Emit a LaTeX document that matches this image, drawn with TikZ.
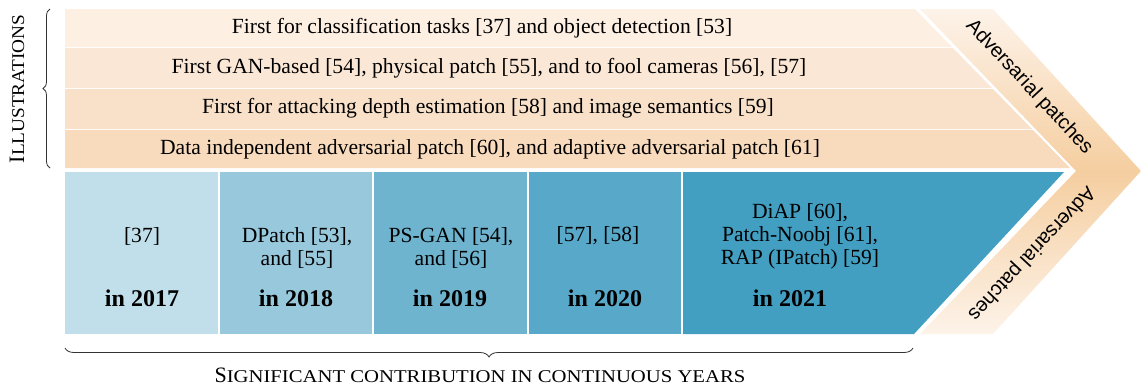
\documentclass[tikz,border=0pt]{standalone}
\usepackage{fontspec}
\setmainfont{Liberation Serif}
\newfontfamily\bandfont{Liberation Sans}
\newfontfamily\scwide[FakeStretch=1.15]{Liberation Serif}
\newfontfamily\scnarrow[FakeStretch=1.07]{Liberation Serif}
\usetikzlibrary{decorations.pathreplacing}

\definecolor{stripeA}{RGB}{253,240,227}
\definecolor{stripeB}{RGB}{251,231,213}
\definecolor{stripeC}{RGB}{249,225,201}
\definecolor{stripeD}{RGB}{248,218,189}
\definecolor{yearA}{RGB}{193,223,234}
\definecolor{yearB}{RGB}{151,200,220}
\definecolor{yearC}{RGB}{110,180,207}
\definecolor{yearD}{RGB}{88,168,201}
\definecolor{yearE}{RGB}{66,159,193}
\definecolor{bandlight}{RGB}{253,243,233}
\definecolor{banddark}{RGB}{245,206,160}

% fake small caps: #1 font, #2 capital, #3 rest
\newcommand{\fakesc}[3]{{\fontsize{11}{13}\selectfont #2}{#1\fontsize{9}{11}\selectfont #3}}

\tikzset{
  yeartext/.style={align=center},
  yearbold/.style={font=\fontsize{12}{14}\selectfont\bfseries},
  bandtext/.style={font=\bandfont},
  bracket/.style={draw=black!80, decorate, decoration={brace, amplitude=#1}},
}

\begin{document}
\begin{tikzpicture}[x=0.5pt, y=-0.5pt, font=\fontsize{10.8}{11.5}\selectfont]
    \useasboundingbox (0,0) rectangle (1141,388);
    % illustrations (stripes)
    \fill[stripeA] (65,9) -- (915,9) -- (952,47) -- (65,47) -- cycle;
    \fill[stripeB] (65,48) -- (953,48) -- (992,88) -- (65,88) -- cycle;
    \fill[stripeC] (65,89) -- (993,89) -- (1032,129) -- (65,129) -- cycle;
    \fill[stripeD] (65,130) -- (1033,130) -- (1070,168) -- (65,168) -- cycle;
    \node (s1) at (482,28) {First for classification tasks [37] and object detection [53]};
    \node (s2) at (489,68) {First GAN-based [54], physical patch [55], and to fool cameras [56], [57]};
    \node (s3) at (488,108) {First for attacking depth estimation [58] and image semantics [59]};
    \node (s4) at (490,149) {Data independent adversarial patch [60], and adaptive adversarial patch [61]};
    % years
    \fill[yearA] (65,172) rectangle (218,334);
    \fill[yearB] (220,172) rectangle (372,334);
    \fill[yearC] (374,172) rectangle (527,334);
    \fill[yearD] (529,172) rectangle (681,334);
    \fill[yearE] (683,172) -- (1064,172) -- (914,334) -- (683,334) -- cycle;
    \node (c1) at (142,236) {[37]};
    \node[yeartext] (c2) at (297,247.5) {DPatch [53],\\and [55]};
    \node[yeartext] (c3) at (451,247.5) {PS-GAN [54],\\and [56]};
    \node (c4) at (598,236) {[57], [58]};
    \node[yeartext] (c5) at (800,236) {DiAP [60],\\Patch-Noobj [61],\\RAP (IPatch) [59]};
    \node[yearbold] (y1) at (142,298) {in 2017};
    \node[yearbold] (y2) at (296,298) {in 2018};
    \node[yearbold] (y3) at (450,298) {in 2019};
    \node[yearbold] (y4) at (605,298) {in 2020};
    \node[yearbold] (y5) at (790,298) {in 2021};
    % chevron band
    \shade[top color=bandlight, bottom color=banddark] (920,9) -- (993,9) -- (1141,171) -- (1076,171) -- cycle;
    \shade[top color=banddark, bottom color=bandlight] (1076,171) -- (1141,171) -- (993,334) -- (920,334) -- cycle;
    \node[bandtext, rotate=-47] (b1) at (1029,87) {Adversarial patches};
    \node[bandtext, rotate=227] (b2) at (1031,253) {Adversarial patches};
    % braces
    \coordinate (lb1) at (50,168);
    \coordinate (lb2) at (50,9);
    \draw[bracket=3.5pt] (lb1) -- (lb2);
    \node[rotate=90] (illus) at (17,89) {\fakesc{\scnarrow}{I}{LLUSTRATIONS}};
    \coordinate (bb1) at (913,348);
    \coordinate (bb2) at (65,348);
    \draw[bracket=4.5pt] (bb1) -- (bb2);
    \node (contrib) at (480,375) {\fakesc{\scwide}{S}{IGNIFICANT CONTRIBUTION IN CONTINUOUS YEARS}};
\end{tikzpicture}
\end{document}
